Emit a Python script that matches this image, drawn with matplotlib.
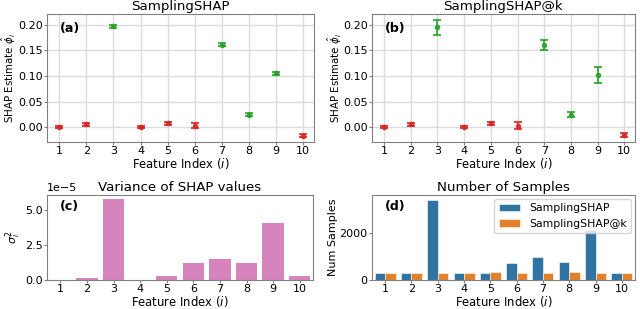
import matplotlib
matplotlib.use("Agg")
import matplotlib.pyplot as plt
import numpy as np

# data
features = [1, 2, 3, 4, 5, 6, 7, 8, 9, 10]
relevant = [False, False, True, False, False, False, True, True, True, False]

shap_mean = [0.0, 0.006, 0.197, 0.0, 0.008, 0.003, 0.161, 0.024, 0.105, -0.017]
shap_err = [0.002, 0.003, 0.003, 0.002, 0.003, 0.005, 0.003, 0.003, 0.003, 0.003]

shapk_mean = [0.0, 0.006, 0.195, 0.0, 0.008, 0.003, 0.160, 0.024, 0.102, -0.016]
shapk_err = [0.002, 0.003, 0.015, 0.002, 0.003, 0.007, 0.010, 0.005, 0.016, 0.004]

variance = [0.0, 0.15, 5.77, 0.0, 0.25, 1.2, 1.52, 1.2, 4.05, 0.25]  # x 1e-5

samples_shap = [280, 280, 3390, 280, 280, 710, 960, 780, 2130, 280]
samples_shapk = [280, 280, 280, 280, 340, 280, 280, 340, 280, 280]

plt.rcParams['font.family'] = 'DejaVu Sans'
plt.rcParams['xtick.labelsize'] = 8
plt.rcParams['ytick.labelsize'] = 8
plt.rcParams['axes.edgecolor'] = '#808080'
plt.rcParams['xtick.color'] = '#808080'
plt.rcParams['ytick.color'] = '#808080'
plt.rcParams['xtick.labelcolor'] = 'black'
plt.rcParams['ytick.labelcolor'] = 'black'
plt.rcParams['xtick.major.size'] = 2
plt.rcParams['ytick.major.size'] = 2
plt.rcParams['xtick.major.pad'] = 1.0
plt.rcParams['ytick.major.pad'] = 1.2

fig = plt.figure(figsize=(6.4, 3.09), dpi=100)
W, H = 640, 309


def px_axes(x0, y0, x1, y1):
    return fig.add_axes([x0 / W, 1 - y1 / H, (x1 - x0) / W, (y1 - y0) / H])


ax_a = px_axes(47, 14, 314, 142)
ax_b = px_axes(372, 14, 635, 142)
ax_c = px_axes(47, 195, 313, 280)
ax_d = px_axes(372, 195, 635, 280)

red = '#d62728'
green = '#2ca02c'

for ax, mean, err, title, tag in [(ax_a, shap_mean, shap_err, 'SamplingSHAP', '(a)'),
                                  (ax_b, shapk_mean, shapk_err, 'SamplingSHAP@k', '(b)')]:
    ax.set_axisbelow(True)
    ax.grid(True, color='#dddddd', linewidth=1)
    for f, m, e, r in zip(features, mean, err, relevant):
        c = green if r else red
        ax.errorbar(f, m, yerr=e, fmt='o', color=c, markersize=3,
                    capsize=3, capthick=1.5, elinewidth=1.5, alpha=0.85)
    ax.set_xticks(features)
    ax.set_xlim(0.55, 10.4)
    ax.set_ylim(-0.029, 0.221)
    ax.set_yticks([0.0, 0.05, 0.10, 0.15, 0.20])
    ax.set_title(title, fontsize=9.6, pad=3)
    ax.set_xlabel('Feature Index ($i$)', fontsize=8.4, labelpad=0)
    ax.set_ylabel(r'SHAP Estimate $\hat{\phi}_i$', fontsize=7.4)
    ax.yaxis.set_label_coords(-0.108, 0.5)
    ax.text(0.05, 0.94, tag, transform=ax.transAxes, fontsize=9,
            fontweight='bold', va='top', ha='left')

# (c) variance
pink = '#d584bd'
ax_c.bar(features, np.array(variance) * 1e-5, width=0.8, color=pink)
ax_c.set_xticks(features)
ax_c.set_xlim(0.5, 10.5)
ax_c.set_ylim(0, 6.06e-5)
ax_c.set_yticks([0, 2.5e-5, 5e-5])
ax_c.set_title('Variance of SHAP values', fontsize=9.6, pad=3)
ax_c.set_xlabel('Feature Index ($i$)', fontsize=8.4, labelpad=0)
ax_c.set_ylabel(r'$\sigma_i^2$', fontsize=8, labelpad=1)
ax_c.yaxis.get_offset_text().set_fontsize(8)
ax_c.text(0.05, 0.94, '(c)', transform=ax_c.transAxes, fontsize=9,
          fontweight='bold', va='top', ha='left')

# (d) number of samples
x = np.array(features)
bw = 0.4
ax_d.bar(x - bw / 2, samples_shap, width=bw, color='#3274a1',
         edgecolor='white', linewidth=0.4, label='SamplingSHAP')
ax_d.bar(x + bw / 2, samples_shapk, width=bw, color='#e1812c',
         edgecolor='white', linewidth=0.4, label='SamplingSHAP@k')
ax_d.set_xticks(features)
ax_d.set_xlim(0.5, 10.5)
ax_d.set_ylim(0, 3590)
ax_d.set_yticks([0, 2000])
ax_d.set_title('Number of Samples', fontsize=9.6, pad=3)
ax_d.set_xlabel('Feature Index ($i$)', fontsize=8.4, labelpad=0)
ax_d.set_ylabel('Num Samples', fontsize=8, labelpad=1)
ax_d.legend(loc='upper right', fontsize=7.8, borderaxespad=0.35)
ax_d.text(0.05, 0.94, '(d)', transform=ax_d.transAxes, fontsize=9,
          fontweight='bold', va='top', ha='left')

fig.savefig('out.png', dpi=100)
